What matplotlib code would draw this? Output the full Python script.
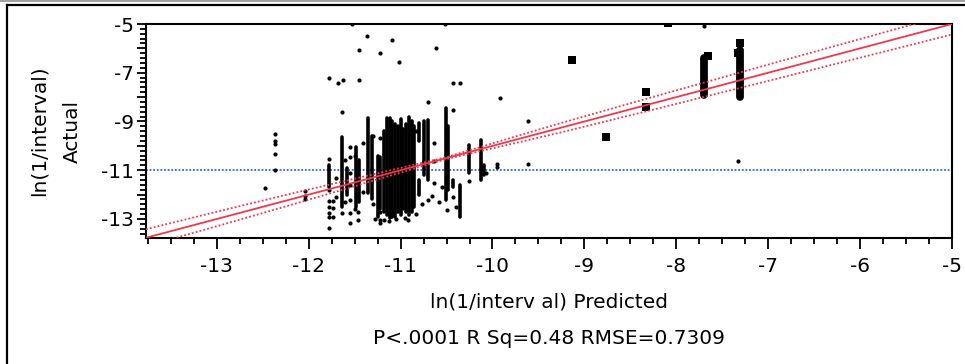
import matplotlib
matplotlib.use("Agg")
import matplotlib.pyplot as plt
from matplotlib.lines import Line2D
from matplotlib.ticker import MultipleLocator, FuncFormatter
import numpy as np

plt.rcParams['font.family'] = ['DejaVu Sans']

# ---- data ----
# isolated small points: predicted (x) and actual (y)
pts_x = [-12.37, -12.37, -12.37, -12.37, -12.37, -12.48,
         -12.04, -12.04, -12.04,
         -11.78, -11.78, -11.78, -11.78, -11.78, -11.78, -11.78, -11.78,
         -11.68, -11.63, -11.45, -11.45,
         -11.74, -11.74, -11.74, -11.64, -11.64,
         -11.55, -11.55, -11.55, -11.55, -11.55, -11.55, -11.55,
         -11.46, -11.46, -11.53, -11.37, -11.22, -11.09, -11.02, -10.61, -10.52,
         -11.22, -11.22, -11.22, -11.22, -11.13,
         -10.70, -10.70, -10.64, -10.64, -10.64, -10.50,
         -10.43, -10.43, -10.43, -10.35, -10.26,
         -9.95, -9.95, -9.92, -9.61, -9.61, -7.33, -7.70,
         -11.70, -11.70, -11.60, -11.60, -11.50, -11.50, -11.41, -11.41,
         -11.30, -11.30, -11.28, -11.18, -11.05, -10.95, -10.92, -10.83,
         -10.83, -10.77, -10.66, -10.58, -10.55, -10.40, -10.12, -10.07]
pts_y = [-9.50, -9.82, -9.92, -10.32, -10.97, -11.71,
         -11.87, -12.04, -12.20,
         -10.55, -11.80, -12.28, -12.49, -12.76, -12.92, -13.37, -7.20,
         -7.43, -7.30, -7.30, -6.07,
         -12.28, -12.55, -12.90, -8.59, -12.75,
         -10.03, -10.44, -11.11, -11.60, -12.21, -12.75, -13.16,
         -13.03, -12.70, -5.00, -5.48, -6.19, -5.66, -6.55, -5.97, -5.00,
         -9.67, -12.70, -13.03, -13.16, -13.10,
         -8.18, -12.21, -9.88, -10.64, -11.52, -12.62,
         -8.52, -12.09, -7.43, -7.43, -11.46,
         -10.74, -10.86, -8.02, -9.00, -10.74, -10.64, -5.07,
         -11.30, -12.10, -10.60, -12.30, -10.40, -12.60, -9.90, -11.90,
         -12.40, -9.60, -13.00, -13.05, -13.00, -12.95, -13.05, -9.40,
         -12.80, -12.40, -12.05, -12.30, -11.70, -12.50, -10.95, -11.10]

# dense runs of small points: predicted value, lowest and highest actual
run_x = [-11.78, -11.64, -11.58, -11.49, -11.45, -11.35, -11.31, -11.25,
         -11.22, -11.18, -11.15, -11.12, -11.09, -11.06, -11.03, -11.00,
         -10.97, -10.94, -10.91, -10.88, -10.85, -10.80, -10.80, -10.74,
         -10.70, -10.51, -10.48, -10.43, -10.35, -10.26, -10.12, -10.09]
run_lo = [-11.67, -12.49, -12.00, -12.49, -12.30, -11.93, -12.20, -12.90,
          -12.60, -12.70, -12.83, -12.95, -12.90, -12.90, -12.70, -12.83,
          -12.60, -12.70, -12.83, -12.70, -12.50, -9.80, -12.00, -11.20,
          -11.39, -12.21, -11.80, -11.68, -12.90, -11.11, -11.39, -11.20]
run_hi = [-10.78, -9.62, -10.90, -10.03, -10.60, -8.85, -9.60, -10.40,
          -10.44, -9.40, -8.85, -8.85, -9.00, -9.10, -9.20, -8.90,
          -9.30, -9.10, -8.80, -9.00, -9.20, -9.05, -11.40, -9.00,
          -8.93, -8.44, -9.20, -11.39, -11.60, -9.96, -9.75, -10.80]

# heavy points (large markers)
big_x = [-9.13, -8.76, -8.33, -8.33, -8.09, -7.65, -7.31, -7.33]
big_y = [-6.48, -9.65, -7.77, -8.39, -4.95, -6.30, -5.79, -6.20]
bigrun_x = [-7.70, -7.31]
bigrun_lo = [-7.91, -7.98]
bigrun_hi = [-6.41, -6.07]

# fit line (actual = predicted), confidence half-widths, response mean
fit_x = [-13.77, -5.0]
band_x = [-13.77, -12.9, -12.09, -11.3, -10.5, -9.7, -9.27, -8.29, -6.9, -5.0]
band_hw = [0.35, 0.29, 0.22, 0.13, 0.04, 0.14, 0.19, 0.26, 0.34, 0.43]
mean_y = -11.0

xlim = (-13.77, -5.0)
ylim = (-13.78, -5.0)

# ---- figure ----
W, H = 965, 364
fig = plt.figure(figsize=(W / 100, H / 100), dpi=100)
ax = fig.add_axes([146 / W, 1 - 238 / H, (952 - 146) / W, (238 - 24) / H])

red = '#f2374d'
blue = '#2d62ea'

ax.axhline(mean_y, color=blue, lw=1.3, ls=(0, (1, 1.0)), zorder=2)
fx = np.array(fit_x)
ax.plot(fx, fx, color=red, lw=1.3, zorder=4)
bx = np.array(band_x)
bh = np.array(band_hw)
ax.plot(bx, bx + bh, color=red, lw=1.3, ls=(0, (1, 1.2)), zorder=4)
ax.plot(bx, bx - bh, color=red, lw=1.3, ls=(0, (1, 1.2)), zorder=4)

ax.vlines(run_x, run_lo, run_hi, colors='black', lw=2.6, zorder=3,
          capstyle='round')
ax.plot(pts_x, pts_y, 'o', color='black', ms=3.0, mew=0, zorder=3)
ax.vlines(bigrun_x, bigrun_lo, bigrun_hi, colors='black', lw=5.6, zorder=3,
          capstyle='round')
ax.plot(big_x, big_y, 's', color='black', ms=6.3, mew=0, zorder=3)

ax.set_xlim(*xlim)
ax.set_ylim(*ylim)

ax.xaxis.set_major_locator(MultipleLocator(1))
ax.xaxis.set_minor_locator(MultipleLocator(0.25))
ax.yaxis.set_major_locator(MultipleLocator(1))
ax.yaxis.set_minor_locator(MultipleLocator(0.2))
ax.yaxis.set_major_formatter(FuncFormatter(
    lambda v, p: (f"{int(round(v))}" if int(round(v)) % 2 != 0 else "")))
ax.xaxis.set_major_formatter(FuncFormatter(lambda v, p: f"{int(round(v))}"))

fs = 14.5
ax.tick_params(axis='x', which='major', direction='out', length=8, width=1.3,
               labelsize=fs, pad=6)
ax.tick_params(axis='x', which='minor', direction='out', length=4.5, width=1.3)
ax.tick_params(axis='y', which='major', direction='out', length=6.5, width=1.3,
               labelsize=fs, pad=2)
ax.tick_params(axis='y', which='minor', direction='out', length=4, width=1.3)
for s in ax.spines.values():
    s.set_linewidth(1.5)

cx = 0.5 * (146 + 952) / W
fig.text(cx, 1 - 302 / H, "ln(1/interv al) Predicted",
         ha='center', va='center', fontsize=fs)
fig.text(cx, 1 - 338 / H, "P<.0001 R Sq=0.48 RMSE=0.7309",
         ha='center', va='center', fontsize=fs)
fig.text(39 / W, 1 - 131 / H, "ln(1/interval)", rotation=90,
         ha='center', va='center', fontsize=fs)
fig.text(72 / W, 1 - 131 / H, "Actual", rotation=90,
         ha='center', va='center', fontsize=fs)

# outer frame pieces
fig.add_artist(Line2D([0, 1], [1 - 0.8 / H, 1 - 0.8 / H], color='#999999',
                      lw=1.3, transform=fig.transFigure))
fig.add_artist(Line2D([7 / W, 1], [1 - 5 / H, 1 - 5 / H], color='black',
                      lw=1.6, transform=fig.transFigure))
fig.add_artist(Line2D([7 / W, 7 / W], [0, 1 - 5 / H], color='black',
                      lw=1.6, transform=fig.transFigure))

fig.savefig("out.png", dpi=100)
